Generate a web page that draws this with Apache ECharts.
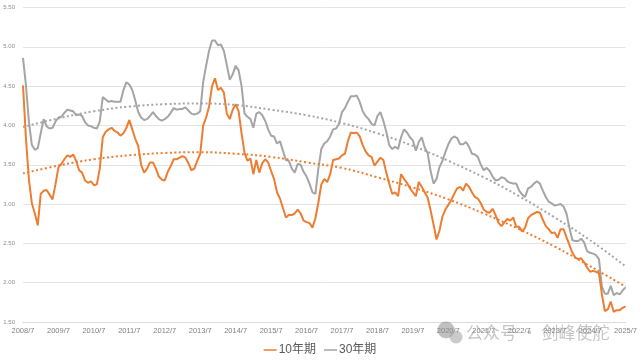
<!DOCTYPE html>
<html>
<head>
<meta charset="utf-8">
<script src="https://cdn.jsdelivr.net/npm/echarts@6/dist/echarts.min.js"></script>
<style>
html,body{margin:0;padding:0;background:#fff;}
#chart{width:640px;height:360px;}
</style>
</head>
<body>
<div id="chart"></div>
<script>
// Monthly categories from 2008/7 to 2025/7
const startYear = 2008, startMonth = 7, monthCount = 205;
const categories = [];
for (let k = 0; k < monthCount; k++) {
  const m = startMonth - 1 + k;
  categories.push((startYear + Math.floor(m / 12)) + '/' + (m % 12 + 1));
}

const seriesNames = ['10年期', '30年期'];

// 10-year yield (%), monthly
const yield10 = [
  4.51,3.83,3.31,3.01,2.88,2.73,3.13,3.17,3.18,3.12,3.06,3.25,
  3.47,3.51,3.57,3.62,3.60,3.63,3.55,3.43,3.40,3.30,3.27,3.29,
  3.24,3.25,3.45,3.85,3.92,3.95,3.97,3.93,3.91,3.87,3.90,3.97,
  4.07,3.95,3.83,3.74,3.50,3.40,3.45,3.53,3.53,3.45,3.35,3.31,
  3.30,3.41,3.48,3.57,3.57,3.59,3.61,3.59,3.52,3.43,3.45,3.55,
  3.64,4.00,4.10,4.24,4.50,4.60,4.45,4.48,4.42,4.15,4.08,4.20,
  4.27,4.18,3.90,3.65,3.55,3.58,3.38,3.56,3.40,3.52,3.57,3.53,
  3.42,3.32,3.15,3.07,2.95,2.83,2.86,2.86,2.88,2.93,2.88,2.79,
  2.77,2.76,2.70,2.82,3.02,3.25,3.32,3.28,3.38,3.56,3.57,3.58,
  3.62,3.64,3.80,3.91,3.90,3.91,3.86,3.75,3.67,3.62,3.60,3.49,
  3.54,3.59,3.56,3.40,3.26,3.13,3.15,3.10,3.38,3.32,3.27,3.20,
  3.15,3.10,3.28,3.22,3.15,3.08,2.92,2.74,2.55,2.66,2.84,2.93,
  2.99,3.05,3.13,3.20,3.22,3.17,3.26,3.22,3.15,3.09,3.07,3.01,
  2.93,2.90,2.89,2.94,2.86,2.76,2.72,2.77,2.81,2.79,2.83,2.71,
  2.71,2.65,2.70,2.82,2.86,2.88,2.90,2.89,2.80,2.72,2.68,2.63,
  2.64,2.57,2.68,2.68,2.58,2.48,2.38,2.32,2.30,2.31,2.26,2.19,
  2.14,2.15,2.14,2.12,1.85,1.64,1.66,1.76,1.63,1.65,1.65,1.68,
  1.70
];

// 30-year yield (%), monthly
const yield30 = [
  4.86,4.51,4.05,3.75,3.69,3.71,3.90,4.08,3.99,3.96,3.97,4.05,
  4.10,4.11,4.16,4.20,4.19,4.18,4.13,4.14,4.12,4.04,4.00,3.99,
  3.97,3.96,4.05,4.36,4.33,4.30,4.31,4.30,4.30,4.30,4.45,4.55,
  4.52,4.45,4.32,4.17,4.10,4.07,4.08,4.12,4.17,4.12,4.08,4.06,
  4.08,4.11,4.16,4.22,4.20,4.21,4.21,4.23,4.19,4.15,4.14,4.15,
  4.18,4.55,4.76,4.95,5.08,5.08,5.02,5.03,4.95,4.77,4.58,4.65,
  4.76,4.70,4.50,4.15,4.11,4.08,3.97,4.15,4.17,4.13,4.06,3.95,
  3.87,3.86,3.77,3.80,3.68,3.56,3.55,3.45,3.40,3.51,3.50,3.41,
  3.35,3.26,3.15,3.13,3.45,3.70,3.77,3.80,3.86,3.95,3.96,4.02,
  4.17,4.22,4.30,4.37,4.37,4.38,4.30,4.18,4.12,4.08,4.02,4.00,
  4.12,4.17,4.06,3.92,3.75,3.70,3.73,3.70,3.85,3.95,3.91,3.85,
  3.81,3.68,3.79,3.85,3.72,3.65,3.42,3.26,3.32,3.47,3.55,3.66,
  3.76,3.83,3.86,3.84,3.76,3.76,3.79,3.73,3.64,3.63,3.60,3.50,
  3.43,3.46,3.42,3.35,3.30,3.31,3.34,3.33,3.29,3.27,3.26,3.26,
  3.17,3.12,3.09,3.20,3.22,3.26,3.29,3.26,3.17,3.09,3.03,3.01,
  2.98,2.99,3.00,2.97,2.88,2.70,2.54,2.53,2.53,2.56,2.51,2.40,
  2.38,2.37,2.35,2.30,1.95,1.86,1.86,1.96,1.84,1.87,1.85,1.90,
  1.94
];

// Dotted trend lines read at each July (category index every 12 months)
const trendIndex = [0,12,24,36,48,60,72,84,96,108,120,132,144,156,168,180,192,204];
const trend10 = [3.39,3.49,3.57,3.62,3.65,3.66,3.64,3.60,3.53,3.46,3.34,3.21,3.06,2.88,2.68,2.46,2.21,1.95];
const trend30 = [3.98,4.09,4.18,4.24,4.27,4.28,4.26,4.20,4.13,4.03,3.90,3.74,3.55,3.34,3.10,2.83,2.54,2.21];

const orange = '#ED7D31', gray = '#A5A5A5';

const chart = echarts.init(document.getElementById('chart'), null, {renderer: 'canvas'});
chart.setOption({
  animation: false,
  backgroundColor: '#ffffff',
  grid: {left: 23, right: 8, top: 7.5, bottom: 38, containLabel: false},
  legend: {
    data: seriesNames,
    left: 'center',
    top: 339,
    icon: 'rect',
    itemWidth: 13,
    itemHeight: 1.5,
    itemGap: 8,
    textStyle: {color: '#595959', fontSize: 12, fontFamily: 'Liberation Sans, "Noto Sans CJK SC", sans-serif', padding: [0,0,0,-3]}
  },
  xAxis: {
    type: 'category',
    data: categories,
    boundaryGap: false,
    axisLine: {show: true, lineStyle: {color: '#D9D9D9', width: 1}},
    axisTick: {show: false},
    axisLabel: {
      interval: 11,
      color: '#7f7f7f',
      fontSize: 7.5,
      margin: 5,
      fontFamily: 'Liberation Sans, sans-serif'
    },
    splitLine: {show: false}
  },
  yAxis: {
    type: 'value',
    min: 1.5,
    max: 5.5,
    interval: 0.5,
    axisLine: {show: false},
    axisTick: {show: false},
    axisLabel: {
      color: '#8c8c8c',
      fontSize: 6,
      margin: 8,
      fontFamily: 'Liberation Sans, sans-serif',
      formatter: v => v.toFixed(2)
    },
    splitLine: {lineStyle: {color: '#E3E3E3', width: 1}}
  },
  series: [
    {
      name: seriesNames[0], type: 'line', data: yield10, showSymbol: false,
      lineStyle: {color: orange, width: 2}, itemStyle: {color: orange}, z: 3
    },
    {
      name: seriesNames[1], type: 'line', data: yield30, showSymbol: false,
      lineStyle: {color: gray, width: 2}, itemStyle: {color: gray}, z: 2
    },
    {
      name: 'trend10', type: 'line', data: trendIndex.map((k, j) => [k, trend10[j]]),
      showSymbol: false, smooth: 0.4,
      lineStyle: {color: orange, width: 2, type: [2, 2.5]}, itemStyle: {color: orange}, z: 4
    },
    {
      name: 'trend30', type: 'line', data: trendIndex.map((k, j) => [k, trend30[j]]),
      showSymbol: false, smooth: 0.4,
      lineStyle: {color: gray, width: 2, type: [2, 2.5]}, itemStyle: {color: gray}, z: 4
    }
  ],
  graphic: [
    {type: 'circle', shape: {cx: 446, cy: 330, r: 8.5}, style: {fill: 'rgba(140,140,140,0.55)'}, z: 100},
    {type: 'circle', shape: {cx: 456, cy: 337, r: 6.5}, style: {fill: 'rgba(160,160,160,0.55)'}, z: 100},
    {type: 'text', left: 466, top: 324, z: 100,
     style: {text: '公众号 · 剑峰使舵', fill: 'rgba(150,150,150,0.55)', font: '17px "Noto Sans CJK SC", sans-serif'}}
  ]
});
</script>
</body>
</html>
